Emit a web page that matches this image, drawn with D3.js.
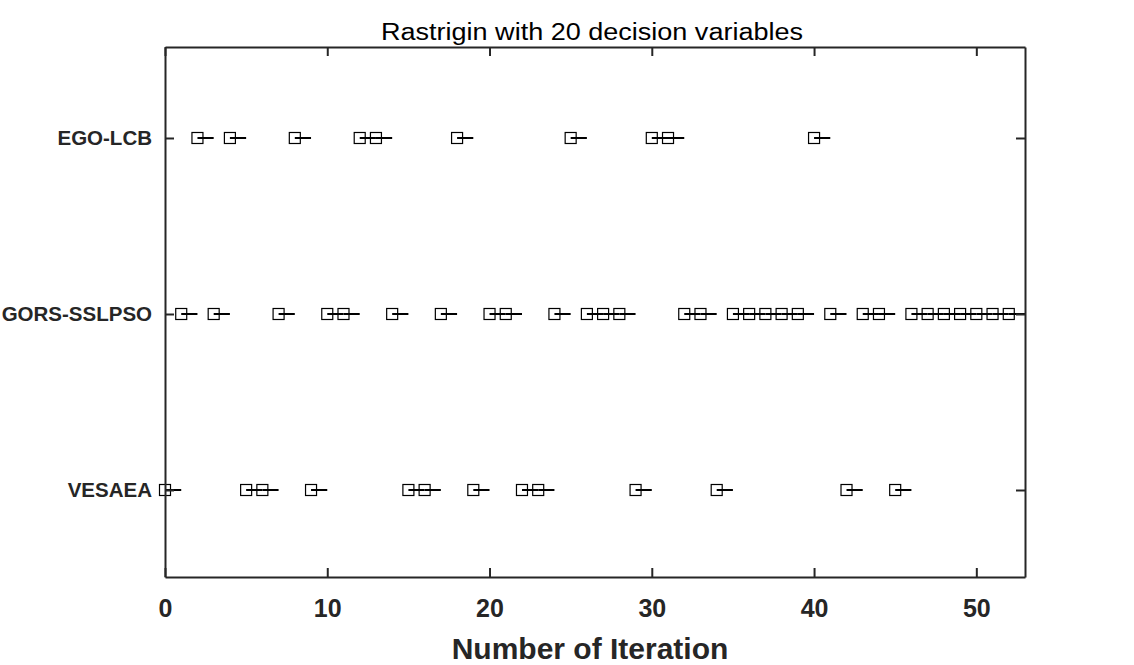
<!DOCTYPE html>
<html><head><meta charset="utf-8">
<script src="https://cdn.jsdelivr.net/npm/d3@7"></script>
<style>body{margin:0;background:#fff;} svg{display:block;}</style>
</head><body>
<script>
const title = "Rastrigin with 20 decision variables";
const xLabel = "Number of Iteration";
const categories = ["VESAEA", "GORS-SSLPSO", "EGO-LCB"];
const vesaea = [0,5,6,9,15,16,19,22,23,29,34,42,45];
const gors = [1,3,7,10,11,14,17,20,21,24,26,27,28,32,33,35,36,37,38,39,41,43,44,46,47,48,49,50,51,52];
const egolcb = [2,4,8,12,13,18,25,30,31,40];
const xTicks = [0,10,20,30,40,50];
const series = [vesaea, gors, egolcb];

const W = 1134, H = 665;
const m = {left:165, right:1025, top:47, bottom:577};
const svg = d3.select("body").append("svg").attr("width", W).attr("height", H);
const x = d3.scaleLinear().domain([0,53]).range([m.left, m.right]);
const y = d3.scaleLinear().domain([0.5057,3.517]).range([m.bottom, m.top]);
const axisColor = "#262626";

// data marks
series.forEach((vals, i) => {
  const g = svg.append("g");
  vals.forEach(v => {
    g.append("line").attr("x1", x(v)).attr("x2", x(v+1))
      .attr("y1", y(i+1)).attr("y2", y(i+1))
      .attr("stroke", "#000").attr("stroke-width", 2);
  });
  vals.forEach(v => {
    g.append("rect").attr("x", x(v)-5.5).attr("y", y(i+1)-5.5)
      .attr("width", 11).attr("height", 11)
      .attr("fill", "none").attr("stroke", "#000").attr("stroke-width", 1.2);
  });
});

// axes box
const font = "'Liberation Sans', Arial, Helvetica, sans-serif";
const xb = svg.append("g").attr("transform", `translate(0,${m.bottom})`)
  .call(d3.axisBottom(x).tickValues(xTicks).tickSizeInner(-9).tickSizeOuter(0).tickPadding(22));
const xt = svg.append("g").attr("transform", `translate(0,${m.top})`)
  .call(d3.axisTop(x).tickValues(xTicks).tickSizeInner(-9).tickSizeOuter(0).tickFormat(""));
const yl = svg.append("g").attr("transform", `translate(${m.left},0)`)
  .call(d3.axisLeft(y).tickValues([1,2,3]).tickFormat(d => categories[d-1]).tickSizeInner(-9).tickSizeOuter(0).tickPadding(13));
const yr = svg.append("g").attr("transform", `translate(${m.right},0)`)
  .call(d3.axisRight(y).tickValues([1,2,3]).tickFormat("").tickSizeInner(-9).tickSizeOuter(0));
[xb, xt, yl, yr].forEach(a => {
  a.selectAll("path.domain").attr("stroke", axisColor).attr("stroke-width", 2);
  a.selectAll(".tick line").attr("stroke", axisColor).attr("stroke-width", 2);
});
xb.selectAll(".tick text").attr("font-family", font).attr("font-size", 25).attr("font-weight", "bold").attr("fill", axisColor);
yl.selectAll(".tick text").attr("font-family", font).attr("font-size", 20.5).attr("font-weight", "bold").attr("fill", axisColor);

svg.append("text").attr("x", 592).attr("y", 40).attr("text-anchor", "middle")
  .attr("font-family", font).attr("font-size", 23).attr("fill", "#000")
  .attr("textLength", 422).attr("lengthAdjust", "spacingAndGlyphs").text(title);
svg.append("text").attr("x", 590).attr("y", 659).attr("text-anchor", "middle")
  .attr("font-family", font).attr("font-size", 30).attr("font-weight", "bold").attr("fill", axisColor)
  .text(xLabel);
</script>
</body></html>
